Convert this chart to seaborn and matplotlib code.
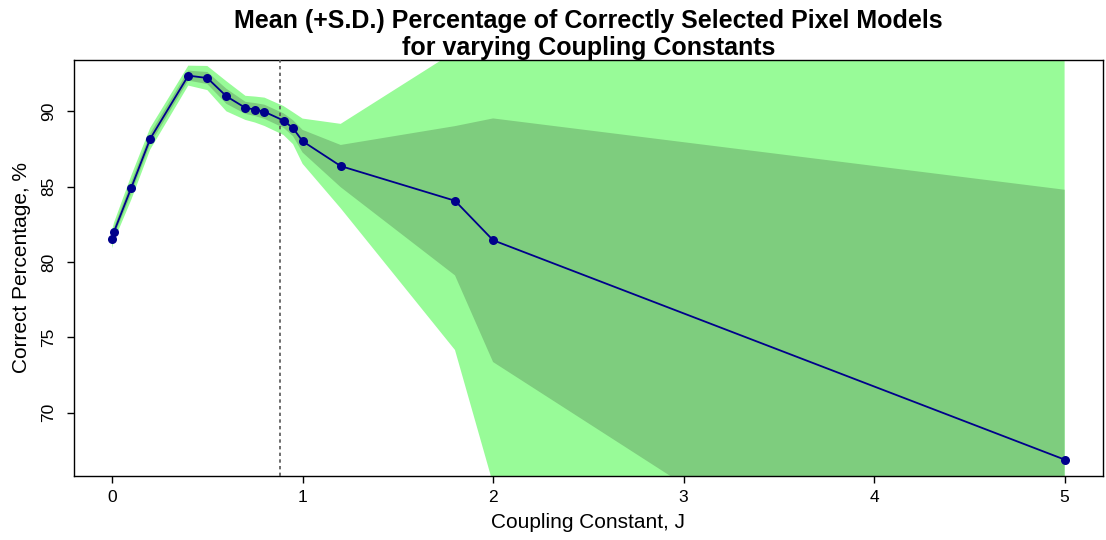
import matplotlib
matplotlib.use("Agg")
import matplotlib.pyplot as plt
import seaborn as sns
import numpy as np
import pandas as pd

coupling = [0.0, 0.01, 0.1, 0.2, 0.4, 0.5, 0.6, 0.7, 0.75, 0.8, 0.9, 0.95, 1.0, 1.2, 1.8, 2.0, 5.0]
mean_pct = [81.5, 82.0, 84.9, 88.17, 92.36, 92.2, 90.99, 90.22, 90.11, 89.96, 89.38, 88.87, 88.01, 86.36, 84.06, 81.44, 66.89]
sd_pct = [0.3, 0.3, 0.4, 0.36, 0.33, 0.4, 0.5, 0.4, 0.43, 0.47, 0.48, 0.53, 0.75, 1.4, 4.95, 8.08, 17.9]
critical_j = 0.8814

x_ticks = [0, 1, 2, 3, 4, 5]
y_ticks = [70, 75, 80, 85, 90]

df = pd.DataFrame({"J": coupling, "mean": mean_pct, "sd": sd_pct})

sns.set_style("white")
plt.rcParams["font.family"] = ["Liberation Sans", "DejaVu Sans"]
plt.rcParams.update({
    "xtick.bottom": True, "ytick.left": True,
    "xtick.major.size": 5, "ytick.major.size": 5,
    "xtick.major.width": 1, "ytick.major.width": 1,
    "xtick.color": "black", "ytick.color": "black",
    "xtick.direction": "out", "ytick.direction": "out",
    "text.color": "black", "axes.labelcolor": "black",
    "axes.edgecolor": "black",
})

fig = plt.figure(figsize=(11.06, 5.40), dpi=100)
ax = fig.add_axes([0.0669, 0.1185, 0.9301, 0.7705])

ax.fill_between(df["J"], df["mean"] - 2 * df["sd"], df["mean"] + 2 * df["sd"],
                color="#98FB98", linewidth=0, zorder=1)
ax.fill_between(df["J"], df["mean"] - df["sd"], df["mean"] + df["sd"],
                color="#7ECD7E", linewidth=0, zorder=2)
ax.axvline(critical_j, color="#555555", linestyle=(0, (2, 2)), linewidth=1.2, zorder=3)

sns.lineplot(data=df, x="J", y="mean", ax=ax, color="#00008B", linewidth=1.3,
             marker="o", markersize=6.5, markeredgewidth=0, zorder=4)

ax.set_xlim(-0.2, 5.2)
ax.set_ylim(65.8, 93.4)
ax.set_xticks(x_ticks)
ax.set_yticks(y_ticks)
ax.set_yticklabels([str(v) for v in y_ticks], rotation=90, va="center")
ax.tick_params(axis="x", labelsize=12.5, pad=5)
ax.tick_params(axis="y", labelsize=12.5, pad=8)
for s in ax.spines.values():
    s.set_color("black")
    s.set_linewidth(1)
    s.set_visible(True)

ax.set_xlabel("Coupling Constant, J", fontsize=15, labelpad=6)
ax.set_ylabel("Correct Percentage, %", fontsize=15, labelpad=7)
ax.set_title("Mean (+S.D.) Percentage of Correctly Selected Pixel Models\nfor varying Coupling Constants",
             fontsize=18, fontweight="bold", linespacing=1.17, pad=3)

fig.savefig("out.png", dpi=100)
